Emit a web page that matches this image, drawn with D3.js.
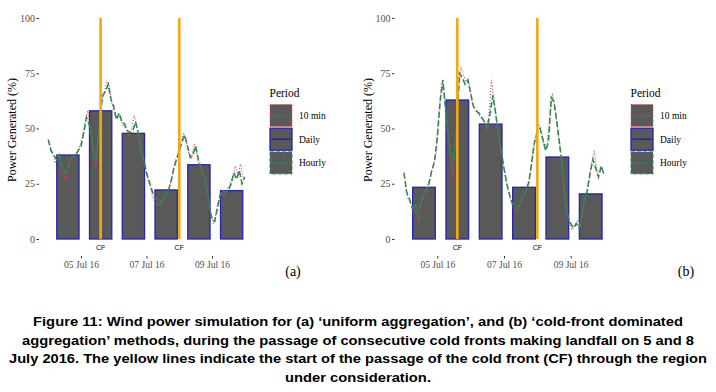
<!DOCTYPE html>
<html>
<head>
<meta charset="utf-8">
<script src="https://cdn.jsdelivr.net/npm/d3@7"></script>
<style>
  body { margin: 0; background: #fff; }
</style>
</head>
<body>
<div id="fig"></div>
<script>
/* data */
var barTimes = ["2016-07-04T14:24", "2016-07-05T14:24", "2016-07-06T14:24",
                "2016-07-07T14:24", "2016-07-08T14:24", "2016-07-09T14:24"];
var dailyA = [38, 58, 47.8, 22.2, 33.6, 21.9];
var dailyB = [23.4, 62.9, 52, 23.4, 37.1, 20.4];

var seriesStart = "2016-07-04T00:00";   // 2-hourly samples from here

var hourlyA = [45, 40, 38, 36, 38, 34, 30, 32, 35, 37, 38, 40,
               42, 48, 55, 52, 45, 36, 42, 56, 65, 67, 70, 63,
               60, 54, 57, 53, 52, 49, 48, 49, 53, 48, 40, 36,
               30, 26, 22, 19, 18, 16, 18, 20, 22, 26, 32, 36,
               40, 44, 47, 42, 37, 38, 42, 36, 32, 28, 24, 15,
               9, 8, 14, 20, 22, 21, 22, 25, 30, 27, 31, 25, 28];
var tenMinA = [43, 39, 35, 38, 33, 29, 27, 33, 36, 38, 39, 42,
               46, 53, 58, 49, 38, 33, 48, 62, 66, 72, 68, 60,
               56, 55, 55, 51, 50, 47, 50, 56, 50, 43, 37, 33,
               27, 23, 18, 16, 15, 17, 19, 21, 24, 29, 35, 38,
               43, 48, 45, 39, 36, 43, 38, 33, 30, 27, 20, 12,
               7, 12, 18, 21, 19, 23, 24, 28, 33, 29, 34, 27];

var hourlyB = [30, 21, 18, 14, 16, 11, 16, 20, 22, 25, 31, 35,
               46, 62, 72, 58, 46, 38, 36, 52, 75, 73, 70, 72,
               66, 60, 58, 57, 55, 53, 50, 57, 65, 57, 47, 40,
               32, 25, 20, 16, 15, 14, 17, 20, 22, 26, 35, 44,
               48, 50, 45, 40, 44, 64, 62, 53, 43, 32, 18, 10,
               7, 5, 7, 5, 11, 18, 22, 30, 36, 32, 28, 33, 29];
var tenMinB = [24, 18, 16, 12, 14, 8, 18, 21, 24, 28, 33, 38,
               55, 70, 66, 52, 40, 28, 45, 64, 78, 74, 71, 70,
               62, 59, 57, 55, 54, 51, 55, 72, 62, 52, 44, 36,
               28, 22, 17, 14, 12, 15, 18, 21, 24, 30, 40, 47,
               52, 48, 42, 44, 55, 66, 58, 48, 38, 25, 14, 8,
               4, 6, 8, 6, 14, 20, 26, 34, 40, 30, 31, 33];

var cfTimes = ["2016-07-05T14:24", "2016-07-08T00:00"];
var xTickDates = ["2016-07-05", "2016-07-07", "2016-07-09"];
var yTicks = [0, 25, 50, 75, 100];
var periods = ["10 min", "Daily", "Hourly"];

var caption = [
  "Figure 11: Wind power simulation for (a) \u2018uniform aggregation\u2019, and (b) \u2018cold-front dominated",
  "aggregation\u2019 methods, during the passage of consecutive cold fronts making landfall on 5 and 8",
  "July 2016. The yellow lines indicate the start of the passage of the cold front (CF) through the region",
  "under consideration."
];

/* helpers */
var parseT = d3.utcParse("%Y-%m-%dT%H:%M"),
    parseD = d3.utcParse("%Y-%m-%d");

var width = 716, height = 392;
var serif = "'Liberation Serif', 'Times New Roman', serif",
    sans = "'Liberation Sans', Arial, sans-serif";

var colBar = "#595959", colDaily = "#2323b4", colHourly = "#2e8b57",
    colTen = "#e8474b", colCF = "#f3a712", colTick = "#4d4d4d";

var svg = d3.select("#fig")
            .append("svg")
            .attr("width", width)
            .attr("height", height)
            .style("background", "#fff");

var y = d3.scaleLinear().domain([0, 100]).range([239, 18]);

function drawPanel(opt) {
    var x = d3.scaleUtc()
                .domain([parseD("2016-07-05"), parseD("2016-07-09")])
                .range(opt.xr);
    var g = svg.append("g");
    var barHalf = 0.34 * 24 * 3600 * 1000;

    /* daily bars */
    g.append("g")
        .selectAll("rect")
        .data(opt.daily)
        .enter().append("rect")
            .attr("x", function(d, i) { return x(new Date(+parseT(barTimes[i]) - barHalf)); })
            .attr("width", function(d, i) { return x(new Date(+parseT(barTimes[i]) + barHalf)) - x(new Date(+parseT(barTimes[i]) - barHalf)); })
            .attr("y", function(d) { return y(d); })
            .attr("height", function(d) { return y(0) - y(d); })
            .attr("fill", colBar)
            .attr("stroke", colDaily)
            .attr("stroke-width", 1.3);

    var t0 = parseT(seriesStart);

    /* 10 min series, dotted red */
    var lineTen = d3.line()
                    .x(function(d, i) { return x(d3.utcMinute.offset(t0, 60 + i * 120)); })
                    .y(function(d) { return y(d); });
    g.append("path")
        .attr("d", lineTen(opt.ten))
        .attr("fill", "none")
        .attr("stroke", colTen)
        .attr("stroke-width", 1.2)
        .attr("stroke-dasharray", "1,2");

    /* hourly series, dashed green */
    var lineHour = d3.line()
                    .x(function(d, i) { return x(d3.utcMinute.offset(t0, i * 120)); })
                    .y(function(d) { return y(d); });
    g.append("path")
        .attr("d", lineHour(opt.hourly))
        .attr("fill", "none")
        .attr("stroke", colHourly)
        .attr("stroke-width", 1.6)
        .attr("stroke-dasharray", "6,2.5");

    /* cold front lines + labels */
    g.append("g")
        .selectAll("line")
        .data(cfTimes)
        .enter().append("line")
            .attr("x1", function(d) { return x(parseT(d)); })
            .attr("x2", function(d) { return x(parseT(d)); })
            .attr("y1", y(100))
            .attr("y2", y(0))
            .attr("stroke", colCF)
            .attr("stroke-width", 2.6);

    g.append("g")
        .selectAll("text")
        .data(cfTimes)
        .enter().append("text")
            .attr("x", function(d) { return x(parseT(d)); })
            .attr("y", 249.5)
            .attr("text-anchor", "middle")
            .attr("font-family", sans)
            .attr("font-size", 7)
            .text("CF");

    /* y axis */
    var yAxis = g.append("g")
                    .attr("transform", "translate(" + opt.yx + ",0)")
                    .call(d3.axisLeft(y).tickValues(yTicks).tickSize(2.5).tickPadding(1.5));
    /* x axis */
    var xAxis = g.append("g")
                    .attr("transform", "translate(0,256)")
                    .call(d3.axisBottom(x)
                            .tickValues(xTickDates.map(parseD))
                            .tickFormat(d3.utcFormat("%d %b %y"))
                            .tickSize(2.5).tickPadding(2.5));

    [yAxis, xAxis].forEach(function(a) {
        a.select(".domain").remove();
        a.selectAll(".tick line").attr("stroke", "#333");
        a.selectAll(".tick text")
            .attr("fill", colTick)
            .attr("font-family", serif)
            .attr("font-size", 10);
    });
    xAxis.selectAll(".tick text").attr("font-size", 9.5);

    /* y axis label */
    svg.append("text")
        .attr("transform", "translate(" + opt.labelX + ",130)rotate(-90)")
        .attr("text-anchor", "middle")
        .attr("font-family", serif)
        .attr("font-size", 12)
        .text("Power Generated (%)");

    /* legend */
    var leg = svg.append("g")
                .attr("transform", "translate(" + opt.legX + ",0)");
    leg.append("text")
        .attr("x", 0)
        .attr("y", 97)
        .attr("font-family", serif)
        .attr("font-size", 11.5)
        .text("Period");

    var keys = leg.selectAll("g.key")
                .data(periods)
                .enter().append("g")
                    .attr("class", "key")
                    .attr("transform", function(d, i) { return "translate(0," + (104 + i * 23.7) + ")"; });

    var keyStroke = [colTen, colDaily, colHourly],
        keyDash = ["1,1.5", null, "4,2"];

    keys.append("rect")
        .attr("x", 0.5).attr("y", 0.5)
        .attr("width", 22).attr("height", 22)
        .attr("fill", colBar)
        .attr("stroke", function(d, i) { return keyStroke[i]; })
        .attr("stroke-width", function(d, i) { return i == 1 ? 1.3 : 1; })
        .attr("stroke-dasharray", function(d, i) { return keyDash[i]; });

    keys.append("line")
        .attr("x1", 2).attr("x2", 21)
        .attr("y1", 11.5).attr("y2", 11.5)
        .attr("stroke", function(d, i) { return keyStroke[i]; })
        .attr("stroke-width", function(d, i) { return i == 1 ? 1.6 : 1.2; })
        .attr("stroke-dasharray", function(d, i) { return keyDash[i]; });

    keys.append("text")
        .attr("x", 29.5)
        .attr("y", 15)
        .attr("font-family", serif)
        .attr("font-size", 9.5)
        .text(function(d) { return d; });

    /* panel tag */
    svg.append("text")
        .attr("x", opt.tagX)
        .attr("y", 276)
        .attr("text-anchor", "middle")
        .attr("font-family", serif)
        .attr("font-size", 14)
        .text(opt.tag);
}

drawPanel({ xr: [81, 212], yx: 39, labelX: 16, legX: 269.5, tagX: 293,
            daily: dailyA, hourly: hourlyA, ten: tenMinA, tag: "(a)" });
drawPanel({ xr: [437.3, 570.7], yx: 394.5, labelX: 372, legX: 630.5, tagX: 686,
            daily: dailyB, hourly: hourlyB, ten: tenMinB, tag: "(b)" });

/* caption */
var capWidths = [650, 672, 698, 146];
svg.append("g")
    .selectAll("text")
    .data(caption)
    .enter().append("text")
        .attr("x", 358)
        .attr("y", function(d, i) { return 326 + i * 18.6; })
        .attr("text-anchor", "middle")
        .attr("font-family", sans)
        .attr("font-weight", "bold")
        .attr("font-size", 13.5)
        .attr("textLength", function(d, i) { return capWidths[i]; })
        .attr("lengthAdjust", "spacingAndGlyphs")
        .text(function(d) { return d; });
</script>
</body>
</html>
